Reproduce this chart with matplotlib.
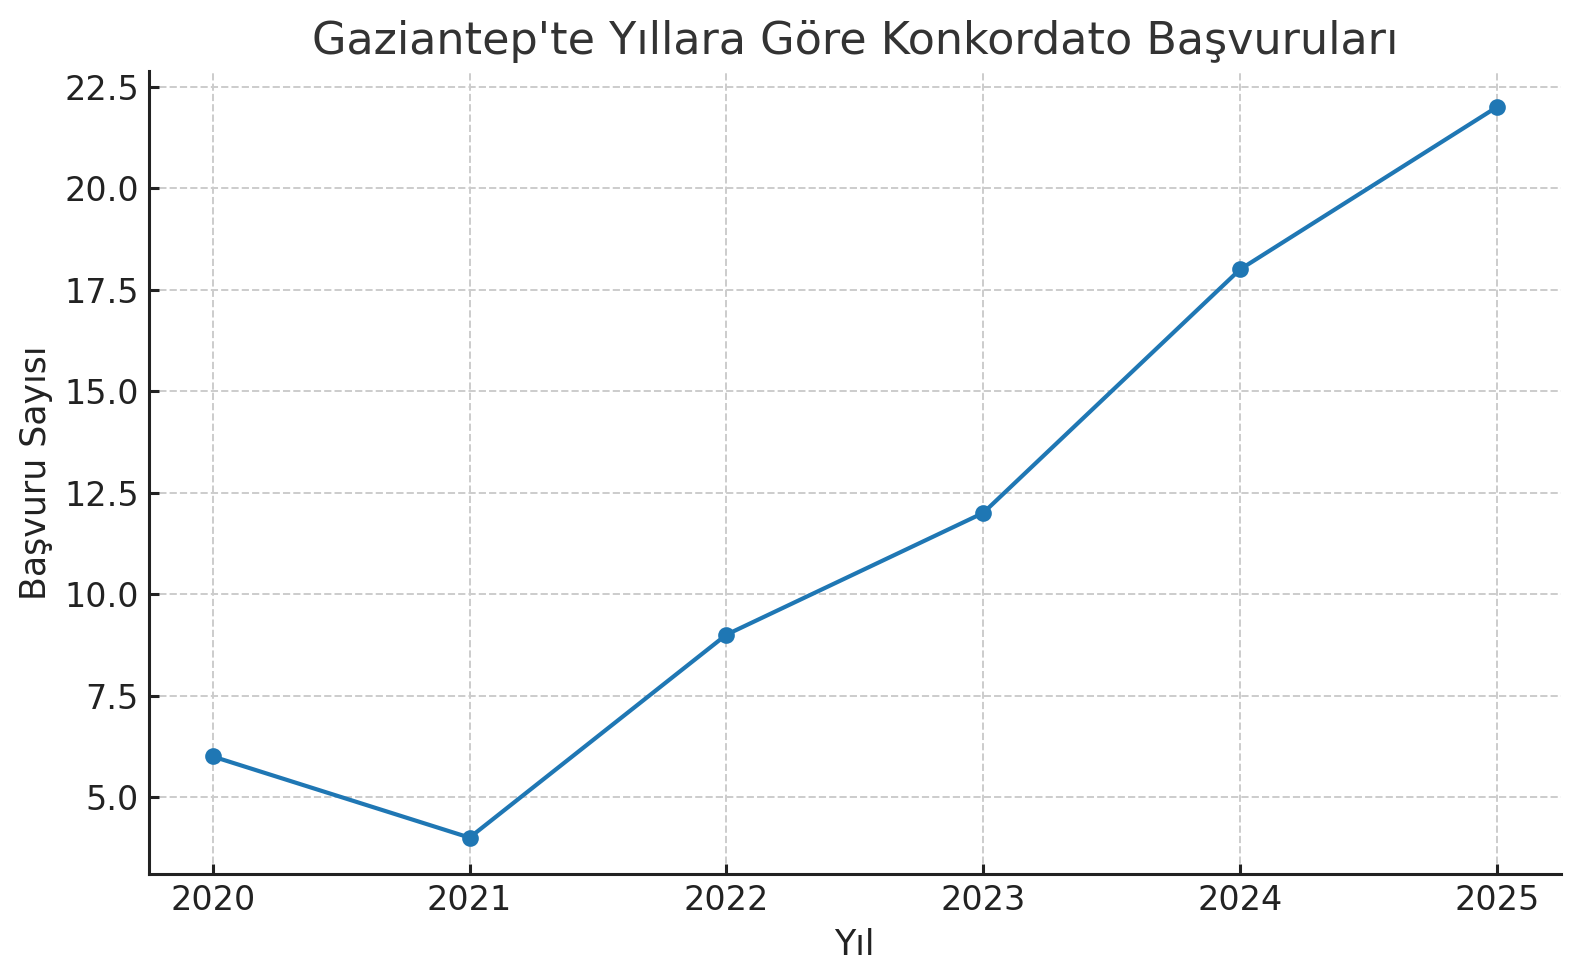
import matplotlib.pyplot as plt

years = [2020, 2021, 2022, 2023, 2024, 2025]
counts = [6, 4, 9, 12, 18, 22]

plt.rcParams['font.family'] = ['DejaVu Sans']

fig, ax = plt.subplots(figsize=(7.9, 4.9), dpi=200)
ax.plot(years, counts, marker='o', color='#1f77b4', linewidth=1.5, markersize=5)

ax.set_title("Gaziantep'te Yıllara Göre Konkordato Başvuruları", fontsize=16, color='#333333')
ax.set_xlabel("Yıl", fontsize=12.5, color='#222222')
ax.set_ylabel("Başvuru Sayısı", fontsize=12.5, color='#222222')
ax.tick_params(labelsize=12, colors='#222222', direction='in', length=3.5, width=1.1)
ax.set_xticks(years)
ax.grid(True, linestyle='--', color='#cccccc', linewidth=0.7)
ax.spines['top'].set_visible(False)
ax.spines['right'].set_visible(False)
for side in ['left', 'bottom']:
    ax.spines[side].set_linewidth(1.1)
    ax.spines[side].set_color('#222222')

fig.subplots_adjust(left=0.094, right=0.988, top=0.928, bottom=0.108)
fig.savefig('out.png')
